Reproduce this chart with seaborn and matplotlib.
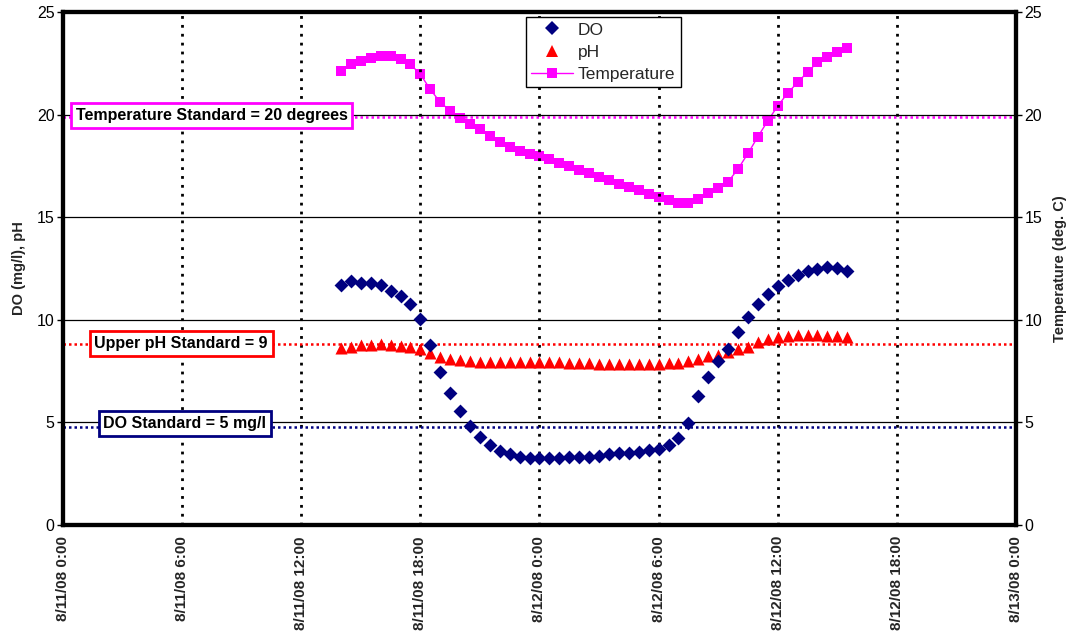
import pandas as pd
import matplotlib
matplotlib.use("Agg")
import matplotlib.pyplot as plt
from matplotlib.lines import Line2D
import seaborn as sns

# half-hourly readings, 8/11/08 14:00 to 8/12/08 15:30
start_time = "2008-08-11 14:00"
n_readings = 52

do_mgl = [11.70, 11.89, 11.81, 11.81, 11.68, 11.42, 11.16, 10.75, 10.04, 8.76,
          7.44, 6.42, 5.56, 4.82, 4.29, 3.90, 3.59, 3.45, 3.33, 3.28,
          3.27, 3.27, 3.28, 3.30, 3.30, 3.31, 3.35, 3.45, 3.51, 3.52,
          3.57, 3.64, 3.70, 3.91, 4.25, 4.99, 6.27, 7.23, 7.99, 8.59,
          9.39, 10.12, 10.79, 11.27, 11.66, 11.96, 12.18, 12.39, 12.46, 12.59,
          12.54, 12.39]

ph = [8.61, 8.69, 8.76, 8.79, 8.80, 8.77, 8.72, 8.69, 8.59, 8.40,
      8.19, 8.08, 8.03, 7.99, 7.96, 7.94, 7.94, 7.93, 7.93, 7.93,
      7.93, 7.93, 7.93, 7.91, 7.89, 7.88, 7.86, 7.85, 7.85, 7.85,
      7.85, 7.85, 7.86, 7.88, 7.91, 8.01, 8.11, 8.24, 8.30, 8.43,
      8.56, 8.69, 8.90, 9.05, 9.15, 9.23, 9.26, 9.26, 9.26, 9.23,
      9.20, 9.18]

temp_c = [22.14, 22.45, 22.63, 22.77, 22.84, 22.85, 22.73, 22.45, 21.96, 21.23,
          20.60, 20.19, 19.85, 19.54, 19.28, 18.97, 18.65, 18.44, 18.24, 18.08,
          17.97, 17.82, 17.66, 17.48, 17.30, 17.14, 16.97, 16.79, 16.63, 16.47,
          16.31, 16.15, 15.98, 15.84, 15.70, 15.71, 15.90, 16.17, 16.42, 16.73,
          17.35, 18.11, 18.92, 19.70, 20.42, 21.05, 21.57, 22.07, 22.55, 22.82,
          23.04, 23.25]

# standard lines as drawn in the chart
do_std = 4.8
ph_std = 8.8
temp_std = 19.9
std_labels = ["DO Standard = 5 mg/l", "Upper pH Standard = 9",
              "Temperature Standard = 20 degrees"]

x_ticks = pd.date_range("2008-08-11 00:00", "2008-08-13 00:00", freq="6h")
x_labels = [f"{t.month}/{t.day}/{t.strftime('%y')} {t.hour}:00" for t in x_ticks]

df = pd.DataFrame({
    "time": pd.date_range(start_time, periods=n_readings, freq="30min"),
    "DO": do_mgl,
    "pH": ph,
    "Temperature": temp_c,
})

sns.set_theme(style="white")
plt.rcParams["font.family"] = ["Liberation Sans", "DejaVu Sans"]

fig = plt.figure(figsize=(10.7, 6.39), dpi=100)
ax = fig.add_axes([0.0589, 0.1784, 0.8906, 0.8028])
ax2 = ax.twinx()

navy, red, magenta = "#000080", "#FF0000", "#FF00FF"

# grid: solid horizontal, dotted vertical
for v in [5, 10, 15, 20]:
    ax.axhline(v, color="black", lw=0.9, zorder=1)
for t in x_ticks[1:-1]:
    ax.axvline(t, color="black", lw=2, ls=(0, (1, 2.2)), zorder=1)

# standards
ax.axhline(do_std, color=navy, lw=1.8, ls=(0, (1, 1.2)), zorder=2)
ax.axhline(ph_std, color=red, lw=1.8, ls=(0, (1, 1.2)), zorder=2)
ax2.axhline(temp_std, color=magenta, lw=1.8, ls=(0, (1, 1.2)), zorder=2)

sns.scatterplot(data=df, x="time", y="DO", ax=ax, marker="D", s=50,
                color=navy, edgecolor=navy, linewidth=0, zorder=4)
sns.scatterplot(data=df, x="time", y="pH", ax=ax, marker="^", s=75,
                color=red, edgecolor=red, linewidth=0, zorder=3)
sns.lineplot(data=df, x="time", y="Temperature", ax=ax2, color=magenta,
             lw=1, marker="s", markersize=7.8, markeredgecolor=magenta,
             markeredgewidth=0, zorder=4)

xmin, xmax = x_ticks[0], x_ticks[-1]
for a in (ax, ax2):
    a.set_xlim(xmin, xmax)
    a.set_ylim(0, 25)
    a.set_yticks([0, 5, 10, 15, 20, 25])
    a.tick_params(axis="y", labelsize=11.5, length=4, width=1, direction="out",
                  colors="black", pad=2)

ax.set_xticks(x_ticks)
ax.set_xticklabels(x_labels, rotation=90, fontsize=11, fontweight="bold")
ax.tick_params(axis="x", length=4, width=1, direction="out", pad=4)
ax.tick_params(axis="y", left=True)
ax2.tick_params(axis="y", right=True)
ax.set_xlabel("")
ax.set_ylabel("DO (mg/l), pH", fontsize=10.5, fontweight="bold", labelpad=8)
ax2.set_ylabel("Temperature (deg. C)", fontsize=10.5, fontweight="bold", labelpad=8)

for a in (ax, ax2):
    for sp in a.spines.values():
        sp.set_color("black")
        sp.set_linewidth(3)
ax.set_zorder(ax2.get_zorder() + 1)
ax.patch.set_visible(False)

# standard labels
box_pos = [(0.128, 0.198), (0.124, 0.354), (0.156, 0.798)]
box_col = [navy, red, magenta]
for lab, (bx, by), c in zip(std_labels, box_pos, box_col):
    ax.text(bx, by, lab, transform=ax.transAxes, ha="center", va="center",
            fontsize=11.5, fontweight="bold", color="black", zorder=6,
            bbox=dict(boxstyle="square,pad=0.3", fc="white", ec=c, lw=2))

handles = [
    Line2D([], [], ls="none", marker="D", color=navy, markersize=7, markeredgewidth=0),
    Line2D([], [], ls="none", marker="^", color=red, markersize=8.5, markeredgewidth=0),
    Line2D([], [], color=magenta, lw=1, marker="s", markersize=7.5, markeredgewidth=0),
]
leg = ax.legend(handles, ["DO", "pH", "Temperature"], loc="upper center",
                bbox_to_anchor=(0.567, 0.99), fontsize=12.5, frameon=True,
                fancybox=False, edgecolor="black", framealpha=1,
                borderpad=0.3, labelspacing=0.4, handlelength=2.4,
                handletextpad=0.3, borderaxespad=0)
leg.get_frame().set_linewidth(1)
leg.set_zorder(7)

fig.savefig("out.png", dpi=100)
